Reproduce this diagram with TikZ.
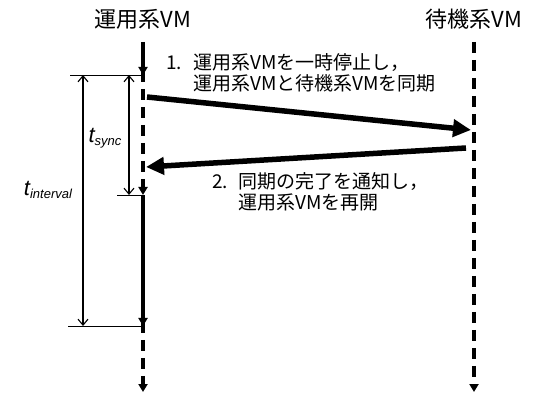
\documentclass[tikz,border=0pt]{standalone}
\usepackage{fontspec}
\newfontfamily\jp{Noto Sans CJK JP}
\newfontfamily\lat{Liberation Sans}
\usetikzlibrary{arrows.meta}
\begin{document}
\begin{tikzpicture}[x=1pt,y=-1pt,
  lifesolid/.style={line width=3.2pt,-{Triangle[length=8pt,width=9pt]}},
  lifedash/.style={line width=3.2pt,dash pattern=on 11pt off 7pt,-{Triangle[length=8pt,width=9pt]}},
  msg/.style={line width=5.5pt,-{Triangle[length=18pt,width=17pt]}},
  tick/.style={line width=0.9pt},
  dim/.style={line width=1.1pt,{Straight Barb[length=6pt,width=10pt]}-{Straight Barb[length=6pt,width=10pt]}},
  title/.style={font=\jp\fontsize{22}{26}\selectfont,inner sep=0pt},
  lbl/.style={font=\jp\fontsize{19}{21.5}\selectfont,inner sep=0pt,align=left,anchor=west},
  tlab/.style={font=\lat\itshape,inner sep=0pt}
]
\useasboundingbox (0,0) rectangle (533,395);
\fill[white] (0,0) rectangle (533,395);
% titles
\node[title] (L) at (143,19) {運用系VM};
\node[title] (R) at (474,19) {待機系VM};
% lifeline points
\coordinate (Ltop) at (143,42);
\coordinate (Lsync) at (143,75);
\coordinate (Lres) at (143,195);
\coordinate (Lint) at (143,326);
\coordinate (Lend) at (143,392);
\coordinate (Rtop) at (474,42);
\coordinate (Rend) at (474,392);
% lifelines
\draw[lifesolid] (Ltop) -- (Lsync);
\draw[lifedash] ([yshift=4pt]Lsync) -- (Lres);
\draw[lifesolid] (Lres) -- (Lint);
\draw[lifedash] ([yshift=4pt]Lint) -- (Lend);
\draw[lifedash] (Rtop) -- (Rend);
% messages
\coordinate (A1s) at (147,97);
\coordinate (A1e) at (471,130);
\coordinate (A2s) at (466,148);
\coordinate (A2e) at (146,167);
\draw[msg] (A1s) -- (A1e);
\draw[msg] (A2s) -- (A2e);
% message labels
\node[lbl] (M1) at (166,73) {\makebox[27pt][l]{1.}運用系VMを一時停止し，\\\makebox[27pt][l]{}運用系VMと待機系VMを同期};
\node[lbl] (M2) at (212,192) {\makebox[26pt][l]{2.}同期の完了を通知し，\\\makebox[26pt][l]{}運用系VMを再開};
% ticks
\coordinate (T1) at (70,75);
\coordinate (T2) at (117,195);
\coordinate (T3) at (68,326);
\draw[tick] (T1) -- (Lsync);
\draw[tick] (T2) -- (Lres);
\draw[tick] (T3) -- (Lint);
% dimension arrows
\coordinate (D1a) at (83,75);
\coordinate (D1b) at (83,326);
\coordinate (D2a) at (129,75);
\coordinate (D2b) at (129,195);
\draw[dim] (D1a) -- (D1b);
\draw[dim] (D2a) -- (D2b);
% time labels
\node[tlab] (TS) at (105,138) {\fontsize{22}{22}\selectfont t\raisebox{-3pt}{\fontsize{13}{13}\selectfont sync}};
\node[tlab,fill=white,inner sep=1pt] (TI) at (48,190) {\fontsize{22}{22}\selectfont t\raisebox{-3pt}{\fontsize{13}{13}\selectfont interval}};
\end{tikzpicture}
\end{document}
